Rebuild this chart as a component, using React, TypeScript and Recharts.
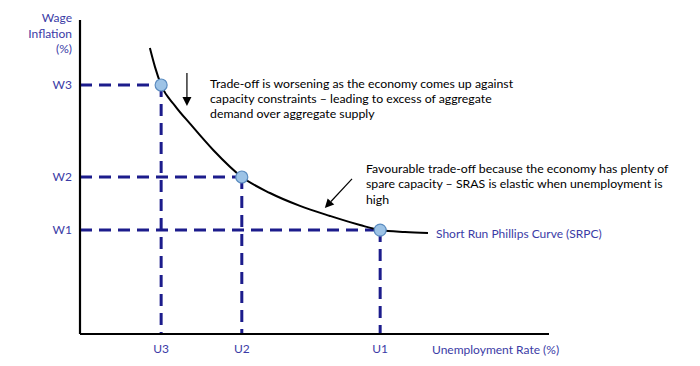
import React from "react";
import {
  ComposedChart,
  Line,
  Scatter,
  XAxis,
  YAxis,
  ReferenceLine,
} from "recharts";

// curve (unemployment, wage inflation), 0-100 scale
const curveU = [14.9, 16.0, 17.3, 20.3, 23.5, 28.4, 34.5, 40.5, 46.9, 53.3, 59.7, 64.0, 69.3, 74.2];
const curveW = [91.1, 85.0, 79.3, 72.6, 66.9, 58.6, 50.0, 44.9, 40.8, 37.6, 34.7, 33.1, 32.5, 32.2];

const pointNames = ["3", "2", "1"];
const pointU = [17.3, 34.5, 64.0];
const pointW = [79.3, 50.0, 33.1];

const uTickLabels = ["U3", "U2", "U1"];
const wTickLabels = ["W3", "W2", "W1"];

const note1 = [
  "Trade-off is worsening as the economy comes up against",
  "capacity constraints \u2013 leading to excess of aggregate",
  "demand over aggregate supply",
];
const note2 = [
  "Favourable trade-off because the economy has plenty of",
  "spare capacity \u2013 SRAS is elastic when unemployment is",
  "high",
];

const curveData = curveU.map((u, i) => ({ u, w: curveW[i] }));
const pointData = pointU.map((u, i) => ({ u, w: pointW[i], name: pointNames[i] }));

const BLUE = "#3b3ba6";
const NAVY = "#1c1c8c";
const FONT = "Lato, 'Noto Sans', sans-serif";

const Arrow = (props: any) => {
  const { x1, y1, x2, y2 } = props;
  const ang = Math.atan2(y2 - y1, x2 - x1);
  const len = 9;
  const wid = 4.5;
  const bx = x2 - len * Math.cos(ang);
  const by = y2 - len * Math.sin(ang);
  const px = -Math.sin(ang) * wid;
  const py = Math.cos(ang) * wid;
  return (
    <g>
      <line x1={x1} y1={y1} x2={bx} y2={by} stroke="#000" strokeWidth={1.2} />
      <polygon points={`${x2},${y2} ${bx + px},${by + py} ${bx - px},${by - py}`} fill="#000" />
    </g>
  );
};

const Dot = (props: any) => (
  <circle cx={props.cx} cy={props.cy} r={6} fill="#9dc3e6" stroke="#5b8cc0" strokeWidth={1.2} />
);

const App = () => {
  return (
    <div style={{ width: 700, height: 366 }}>
      <style>{`body{margin:0}`}</style>
      <ComposedChart
        width={700}
        height={366}
        margin={{ top: 20, right: 151, left: 0, bottom: 0 }}
      >
        <XAxis
          type="number"
          dataKey="u"
          domain={[0, 100]}
          ticks={pointU}
          tickFormatter={(v: number) => uTickLabels[pointU.indexOf(v)]}
          tickLine={false}
          tickSize={0}
          tickMargin={10}
          height={32}
          axisLine={{ stroke: "#000", strokeWidth: 2.2 }}
          tick={{ fill: BLUE, fontSize: 12, fontFamily: FONT }}
        />
        <YAxis
          type="number"
          dataKey="w"
          domain={[0, 100]}
          ticks={pointW}
          tickFormatter={(v: number) => wTickLabels[pointW.indexOf(v)]}
          tickLine={false}
          tickSize={0}
          tickMargin={8}
          width={80}
          axisLine={{ stroke: "#000", strokeWidth: 2.2 }}
          tick={{ fill: BLUE, fontSize: 12, fontFamily: FONT }}
        />
        {pointData.map((p) => (
          <ReferenceLine
            key={"h" + p.name}
            segment={[{ x: 0, y: p.w }, { x: p.u, y: p.w }]}
            stroke={NAVY}
            strokeWidth={3}
            strokeDasharray="12 7"
          />
        ))}
        {pointData.map((p) => (
          <ReferenceLine
            key={"v" + p.name}
            segment={[{ x: p.u, y: p.w }, { x: p.u, y: 0 }]}
            stroke={NAVY}
            strokeWidth={3}
            strokeDasharray="12 7"
          />
        ))}
        <ReferenceLine segment={[{ x: 22.8, y: 83.1 }, { x: 22.8, y: 72.6 }]} shape={Arrow} />
        <ReferenceLine segment={[{ x: 58.0, y: 49.4 }, { x: 52.2, y: 40.1 }]} shape={Arrow} />
        <Line
          data={curveData}
          dataKey="w"
          type="monotone"
          stroke="#000"
          strokeWidth={2}
          dot={false}
          activeDot={false}
          isAnimationActive={false}
        />
        <Scatter data={pointData} dataKey="w" shape={Dot} isAnimationActive={false} />
        <g fontFamily={FONT} fontSize={12}>
          <text x={72} y={17} textAnchor="end" fill={BLUE} dominantBaseline="central">Wage</text>
          <text x={72} y={33} textAnchor="end" fill={BLUE} dominantBaseline="central">Inflation</text>
          <text x={72} y={48} textAnchor="end" fill={BLUE} dominantBaseline="central">(%)</text>
          {note1.map((t, i) => (
            <text key={t} x={210} y={83 + i * 15} fill="#000" fontSize={12.3} dominantBaseline="central">{t}</text>
          ))}
          {note2.map((t, i) => (
            <text key={t} x={366} y={168 + i * 15.5} fill="#000" fontSize={12.3} dominantBaseline="central">{t}</text>
          ))}
          <text x={436} y={233} fill={BLUE} dominantBaseline="central">Short Run Phillips Curve (SRPC)</text>
          <text x={432} y={349} fill={BLUE} dominantBaseline="central">Unemployment Rate (%)</text>
        </g>
      </ComposedChart>
    </div>
  );
};

export default App;
